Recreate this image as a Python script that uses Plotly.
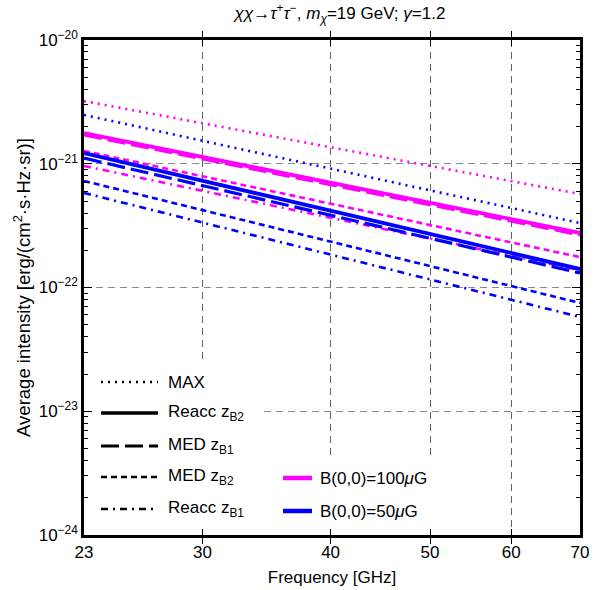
import math
import plotly.graph_objects as go

# ---------------- data ----------------
freq = [23, 70]  # GHz

# B(0,0)=100 muG (magenta)
b100_max = [3.21e-21, 5.70e-22]
b100_reacc_zb2 = [1.77e-21, 2.76e-22]
b100_med_zb1 = [1.71e-21, 2.66e-22]
b100_med_zb2 = [1.27e-21, 1.76e-22]
b100_reacc_zb1 = [9.6e-22, 1.38e-22]

# B(0,0)=50 muG (blue)
b50_max = [2.48e-21, 3.32e-22]
b50_reacc_zb2 = [1.22e-21, 1.41e-22]
b50_med_zb1 = [1.11e-21, 1.31e-22]
b50_med_zb2 = [7.26e-22, 7.50e-23]
b50_reacc_zb1 = [5.81e-22, 5.78e-23]

x_tickvals = [23, 30, 40, 50, 60, 70]
x_ticktext = ["23", "30", "40", "50", "60", "70"]
y_tickvals = [1e-24, 1e-23, 1e-22, 1e-21, 1e-20]
y_ticktext = ["10<sup>−24</sup>", "10<sup>−23</sup>", "10<sup>−22</sup>",
              "10<sup>−21</sup>", "10<sup>−20</sup>"]

style_names = ["MAX", "Reacc z<sub>B2</sub>", "MED z<sub>B1</sub>",
               "MED z<sub>B2</sub>", "Reacc z<sub>B1</sub>"]
field_names = ["B(0,0)=100<i>μ</i>G", "B(0,0)=50<i>μ</i>G"]

# ---------------- styles ----------------
MAG = "#ff00ff"
BLU = "#0000ff"
dashes = ["2px,5px", "solid", "18px,6px", "6px,4px", "7px,5px,2px,5px"]
widths = [2.6, 3.8, 3.2, 2.6, 2.6]

W, H = 606, 590
L, R, T, B = 84, 580, 40, 535


def px(xp):
    return (xp - L) / (R - L)


def py(yp):
    return (B - yp) / (B - T)


fig = go.Figure()

series100 = [b100_max, b100_reacc_zb2, b100_med_zb1, b100_med_zb2, b100_reacc_zb1]
series50 = [b50_max, b50_reacc_zb2, b50_med_zb1, b50_med_zb2, b50_reacc_zb1]

for i, ys in enumerate(series100):
    fig.add_trace(go.Scatter(x=freq, y=ys, mode="lines", showlegend=False,
                             line=dict(color=MAG, width=widths[i], dash=dashes[i])))
for i, ys in enumerate(series50):
    fig.add_trace(go.Scatter(x=freq, y=ys, mode="lines", showlegend=False,
                             line=dict(color=BLU, width=widths[i], dash=dashes[i])))

shapes = []
# white legend backgrounds hiding the grid (ticks on the frame stay visible)
shapes.append(dict(type="rect", xref="paper", yref="paper", layer="above",
                   x0=px(L + 9), x1=px(262), y0=py(B - 7), y1=py(363),
                   fillcolor="white", line=dict(width=0)))
shapes.append(dict(type="rect", xref="paper", yref="paper", layer="above",
                   x0=px(262), x1=px(445), y0=py(B - 7), y1=py(455),
                   fillcolor="white", line=dict(width=0)))

FS = 17
annotations = []
rows = [382, 413, 446, 477, 509]
for i, name in enumerate(style_names):
    shapes.append(dict(type="line", xref="paper", yref="paper", layer="above",
                       x0=px(101), x1=px(158), y0=py(rows[i]), y1=py(rows[i]),
                       line=dict(color="black", width=widths[i] * 0.9, dash=dashes[i])))
    annotations.append(dict(x=px(166), y=py(rows[i]), xref="paper", yref="paper",
                            text=name, showarrow=False, xanchor="left", yanchor="middle",
                            font=dict(size=FS, color="black")))

rows2 = [478, 511]
for i, (name, col) in enumerate(zip(field_names, [MAG, BLU])):
    shapes.append(dict(type="line", xref="paper", yref="paper", layer="above",
                       x0=px(283), x1=px(312), y0=py(rows2[i]), y1=py(rows2[i]),
                       line=dict(color=col, width=4.5)))
    annotations.append(dict(x=px(318), y=py(rows2[i]), xref="paper", yref="paper",
                            text=name, showarrow=False, xanchor="left", yanchor="middle",
                            font=dict(size=FS, color="black")))

minor_y = [k * 10.0 ** e for e in range(-24, -20) for k in range(2, 10)]

fig.update_layout(
    width=W, height=H,
    margin=dict(l=L, r=W - R, t=T, b=H - B, pad=0, autoexpand=False),
    plot_bgcolor="white", paper_bgcolor="white",
    font=dict(family="Liberation Sans, Arial, sans-serif", size=FS, color="black"),
    title=dict(text="<i>χχ</i>→<i>τ</i><sup>+</sup><i>τ</i><sup>−</sup>, "
                    "<i>m</i><sub><i>χ</i></sub>=19 GeV; <i>γ</i>=1.2",
               x=340 / W, xanchor="center", y=1 - 13 / H, yanchor="middle",
               font=dict(size=17)),
    shapes=shapes,
    annotations=annotations,
    xaxis=dict(
        type="log", range=[math.log10(23), math.log10(70)],
        tickvals=x_tickvals, ticktext=x_ticktext, automargin=False,
        ticks="inside", ticklen=6, tickwidth=1, tickcolor="black",
        showline=True, linewidth=2.5, linecolor="black", mirror="allticks",
        showgrid=True, gridcolor="#606060", griddash="7px,5px", gridwidth=1.2,
        zeroline=False,
        title=dict(text="Frequency [GHz]", font=dict(size=FS), standoff=10),
        tickfont=dict(size=FS),
    ),
    yaxis=dict(
        type="log", range=[-24, -20], automargin=False,
        tickvals=y_tickvals, ticktext=y_ticktext,
        ticks="inside", ticklen=8, tickwidth=1, tickcolor="black",
        showline=True, linewidth=2.5, linecolor="black", mirror="allticks",
        showgrid=True, gridcolor="#8a8a8a", griddash="7px,5px", gridwidth=1.2,
        zeroline=False,
        minor=dict(tickvals=minor_y, ticks="inside", ticklen=4, tickcolor="black",
                   showgrid=False),
        title=dict(text="Average intensity [erg/(cm<sup>2</sup>·s·Hz·sr)]",
                   font=dict(size=18.5), standoff=4),
        tickfont=dict(size=FS),
    ),
    yaxis2=dict(
        type="log", range=[-24, -20], overlaying="y", side="right", automargin=False,
        tickvals=y_tickvals, showticklabels=False,
        ticks="inside", ticklen=8, tickwidth=1, tickcolor="black",
        showline=False, showgrid=False, zeroline=False,
        minor=dict(tickvals=minor_y, ticks="inside", ticklen=4, tickcolor="black",
                   showgrid=False),
    ),
)

# an empty trace so the right-hand tick axis is drawn
fig.add_trace(go.Scatter(x=[None], y=[None], yaxis="y2", mode="lines",
                         showlegend=False, hoverinfo="skip"))

fig.write_html("out.html")
